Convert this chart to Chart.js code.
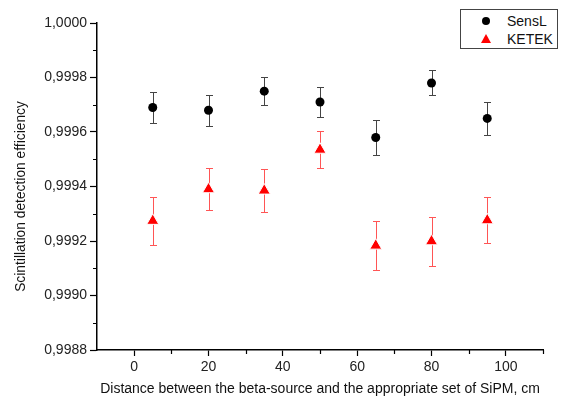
<!DOCTYPE html>
<html>
<head>
<meta charset="utf-8">
<script src="https://cdn.jsdelivr.net/npm/chart.js@4.4.0/dist/chart.umd.min.js"></script>
<style>
    html, body { margin: 0; padding: 0; background: #fff; }
    #wrap { position: relative; width: 565px; height: 399px; }
    #legend {
        position: absolute; left: 460px; top: 9px; width: 96px; height: 38px;
        border: 1px solid #444; background: #fff;
        font: 14px "Liberation Sans", Arial, sans-serif; color: #111;
    }
    .row { position: absolute; left: 0; height: 16px; line-height: 16px; }
    .row span.label { position: absolute; left: 46px; white-space: nowrap; }
    .dot { position: absolute; left: 21px; top: 4px; width: 8px; height: 8px; border-radius: 50%; background: #000; }
    .tri { position: absolute; left: 20px; top: 3px; width: 0; height: 0;
        border-left: 5px solid transparent; border-right: 5px solid transparent; border-bottom: 9px solid #ff0000; }
</style>
</head>
<body>
<div id="wrap">
    <canvas id="chart" width="565" height="399"></canvas>
    <div id="legend">
        <div class="row" style="top:3px"><i class="dot"></i><span class="label">SensL</span></div>
        <div class="row" style="top:21px"><i class="tri"></i><span class="label">KETEK</span></div>
    </div>
</div>
<script>
    const distances = [5, 20, 35, 50, 65, 80, 95];
    const sensl = [0.99969, 0.99968, 0.99975, 0.99971, 0.99958, 0.99978, 0.99965];
    const senslErr = [0.000056, 0.000057, 0.000050, 0.000055, 0.000064, 0.000046, 0.000061];
    const ketek = [0.999274, 0.99939, 0.999385, 0.999535, 0.999183, 0.999199, 0.999276];
    const ketekErr = [0.000087, 0.000077, 0.000078, 0.000067, 0.000089, 0.000089, 0.000084];
    const xTicks = [0, 20, 40, 60, 80, 100];
    const xMinorTicks = [10, 30, 50, 70, 90, 110];
    const yTicks = [0.9988, 0.9990, 0.9992, 0.9994, 0.9996, 0.9998, 1.0000];
    const yMinorTicks = [0.9989, 0.9991, 0.9993, 0.9995, 0.9997, 0.9999];
    const yTitle = 'Scintillation detection efficiency';

    Chart.defaults.font.family = '"Liberation Sans", Arial, sans-serif';
    Chart.defaults.font.size = 14;
    Chart.defaults.color = '#222';

    function points(xs, ys, errs) {
        return xs.map((x, i) => ({ x: x, y: ys[i], err: errs[i] }));
    }

    const errorBarsPlugin = {
        id: 'errorBars',
        beforeDatasetsDraw(chart) {
            const ctx = chart.ctx;
            const xs = chart.scales.x, ys = chart.scales.y;
            ctx.save();
            ctx.lineWidth = 1;
            chart.data.datasets.forEach(ds => {
                ctx.strokeStyle = ds.errorColor;
                ds.data.forEach(p => {
                    const px = Math.round(xs.getPixelForValue(p.x)) + 0.5;
                    const top = Math.round(ys.getPixelForValue(p.y + p.err)) + 0.5;
                    const bot = Math.round(ys.getPixelForValue(p.y - p.err)) + 0.5;
                    ctx.beginPath();
                    ctx.moveTo(px, top); ctx.lineTo(px, bot);
                    ctx.moveTo(px - 3.5, top); ctx.lineTo(px + 3.5, top);
                    ctx.moveTo(px - 3.5, bot); ctx.lineTo(px + 3.5, bot);
                    ctx.stroke();
                });
            });
            ctx.restore();
        },
        afterDraw(chart) {
            const ctx = chart.ctx;
            const xs = chart.scales.x, ys = chart.scales.y;
            const area = chart.chartArea;
            ctx.save();
            ctx.strokeStyle = '#000';
            ctx.lineWidth = 1.2;
            ctx.beginPath();
            yMinorTicks.forEach(v => {
                const py = Math.round(ys.getPixelForValue(v)) + 0.5;
                ctx.moveTo(area.left - 4, py); ctx.lineTo(area.left, py);
            });
            xMinorTicks.forEach(v => {
                const px = Math.round(xs.getPixelForValue(v)) + 0.5;
                ctx.moveTo(px, area.bottom); ctx.lineTo(px, area.bottom + 4);
            });
            ctx.stroke();

            // y axis title, sits a bit below the plot centre like in the original
            ctx.translate(21, (area.top + area.bottom) / 2 + 10);
            ctx.rotate(-Math.PI / 2);
            ctx.fillStyle = '#111';
            ctx.font = '13.8px "Liberation Sans", Arial, sans-serif';
            ctx.textAlign = 'center';
            ctx.textBaseline = 'middle';
            ctx.fillText(yTitle, 0, 0);
            ctx.restore();
        }
    };

    new Chart(document.getElementById('chart'), {
        type: 'scatter',
        data: {
            datasets: [
                {
                    label: 'SensL',
                    data: points(distances, sensl, senslErr),
                    pointStyle: 'circle',
                    pointRadius: 4.5,
                    backgroundColor: '#000',
                    borderColor: '#000',
                    borderWidth: 0,
                    errorColor: '#444'
                },
                {
                    label: 'KETEK',
                    data: points(distances, ketek, ketekErr),
                    pointStyle: 'triangle',
                    pointRadius: 7,
                    backgroundColor: '#ff0000',
                    borderColor: '#fff',
                    borderWidth: 1,
                    errorColor: '#ff5555'
                }
            ]
        },
        options: {
            responsive: false,
            animation: false,
            layout: { padding: { top: 23, right: 22, left: 0, bottom: 0 } },
            plugins: {
                legend: { display: false },
                tooltip: { enabled: false }
            },
            scales: {
                x: {
                    type: 'linear',
                    min: -10,
                    max: 110,
                    afterBuildTicks: scale => { scale.ticks = xTicks.map(v => ({ value: v })); },
                    afterFit: scale => { scale.height = 49; },
                    grid: { drawOnChartArea: false, tickLength: 6, tickColor: '#000', tickWidth: 1.2 },
                    border: { display: true, color: '#000', width: 1.5 },
                    ticks: { padding: 3, maxRotation: 0, color: '#222', font: { size: 14 } },
                    title: {
                        display: true,
                        text: 'Distance between the beta-source and the appropriate set of SiPM, cm',
                        color: '#111',
                        font: { size: 14 },
                        padding: { top: 0, bottom: 1 }
                    }
                },
                y: {
                    type: 'linear',
                    min: 0.9988,
                    max: 1.0,
                    afterBuildTicks: scale => { scale.ticks = yTicks.map(v => ({ value: v })); },
                    afterFit: scale => { scale.width = 97; },
                    grid: { drawOnChartArea: false, tickLength: 7, tickColor: '#000', tickWidth: 1.2 },
                    border: { display: true, color: '#000', width: 1.5 },
                    ticks: {
                        padding: 3,
                        color: '#222',
                        font: { size: 14 },
                        callback: v => v.toFixed(4).replace('.', ',')
                    },
                    title: { display: false }
                }
            }
        },
        plugins: [errorBarsPlugin]
    });
</script>
</body>
</html>
